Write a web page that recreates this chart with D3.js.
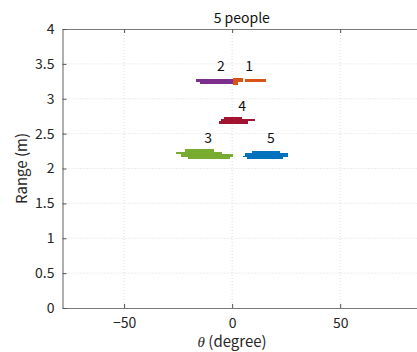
<!DOCTYPE html>
<html>
<head>
<meta charset="utf-8">
<script src="https://cdn.jsdelivr.net/npm/d3@7"></script>
<style>
  html, body { margin: 0; padding: 0; background: #fff; }
  svg { display: block; }
  text { font-family: "Noto Sans CJK JP", "Noto Sans", sans-serif; }
</style>
</head>
<body>
<svg id="chart" width="417" height="352"></svg>
<script>
// Detected people: each row is [thetaStart, thetaEnd, rangeTop, rangeBottom]
const person1 = [
  [0.2, 4.8, 3.300, 3.245],
  [0.2, 2.8, 3.245, 3.197],
  [6.0, 15.6, 3.283, 3.245]
];
const person2 = [
  [-16.5, 0.2, 3.280, 3.247],
  [-15.0, 0.2, 3.247, 3.205]
];
const person3 = [
  [-21.6, -8.4, 2.276, 2.237],
  [-26.1, -4.9, 2.237, 2.204],
  [-23.7, 0.2, 2.204, 2.170],
  [-20.3, -1.1, 2.170, 2.133]
];
const person4 = [
  [-3.8, 4.5, 2.745, 2.713],
  [-5.2, 10.5, 2.713, 2.674],
  [-6.2, 7.3, 2.674, 2.634]
];
const person5 = [
  [9.3, 22.0, 2.255, 2.227],
  [5.9, 25.7, 2.227, 2.185],
  [4.8, 25.7, 2.185, 2.169],
  [6.7, 23.5, 2.169, 2.132]
];

const people = [person1, person2, person3, person4, person5];
const peopleIds = ["1", "2", "3", "4", "5"];
const peopleColors = ["#D95319", "#7E2F8E", "#77AC30", "#A2142F", "#0072BD"];
// Label anchor for each person: [theta, range]
const labelPos = [[7.9, 3.48], [-5.2, 3.48], [-11.1, 2.45], [4.6, 2.91], [17.9, 2.45]];

const xTicks = [-50, 0, 50];
const yTicks = [0, 0.5, 1, 1.5, 2, 2.5, 3, 3.5, 4];
const titleText = "5 people";

const svg = d3.select("#chart");
const plotL = 62.5, plotT = 29, plotB = 308, plotR = 421;

const x = d3.scaleLinear().domain([-78.5, 87.4]).range([plotL, plotR]);
const y = d3.scaleLinear().domain([0, 4]).range([plotB, plotT]);

const axisColor = "#7a7a7a";
const textColor = "#262626";

// grid
const grid = svg.append("g");
grid.selectAll(".gx").data(xTicks).join("line")
  .attr("x1", d => x(d)).attr("x2", d => x(d))
  .attr("y1", plotT).attr("y2", plotB)
  .attr("stroke", "#dcdcdc").attr("stroke-width", 1)
  .attr("stroke-dasharray", "1,2");
grid.selectAll(".gy").data(yTicks.filter(d => d > 0 && d < 4)).join("line")
  .attr("x1", plotL).attr("x2", plotR)
  .attr("y1", d => y(d)).attr("y2", d => y(d))
  .attr("stroke", "#dcdcdc").attr("stroke-width", 1)
  .attr("stroke-dasharray", "1,2");

// person marks: rows snapped to whole pixels so neighbouring rows join without seams
people.forEach((rows, i) => {
  svg.append("g").attr("shape-rendering", "crispEdges")
    .selectAll("rect").data(rows).join("rect")
    .attr("x", d => Math.round(x(d[0])))
    .attr("width", d => Math.round(x(d[1])) - Math.round(x(d[0])))
    .attr("y", d => Math.round(y(d[2])))
    .attr("height", d => Math.round(y(d[3])) - Math.round(y(d[2])))
    .attr("fill", peopleColors[i]);
});

// person labels
svg.append("g").selectAll("text").data(labelPos).join("text")
  .attr("x", d => x(d[0]))
  .attr("y", d => y(d[1]))
  .attr("text-anchor", "middle")
  .attr("dominant-baseline", "central")
  .attr("font-size", 14)
  .attr("fill", "#111")
  .text((d, i) => peopleIds[i]);

// axes
const xAxisB = d3.axisBottom(x).tickValues(xTicks).tickSizeInner(-4).tickSizeOuter(0)
  .tickFormat(d => d < 0 ? "\u2212" + Math.abs(d) : d).tickPadding(10);
const gxb = svg.append("g").attr("transform", `translate(0,${plotB})`).call(xAxisB);
const xAxisT = d3.axisTop(x).tickValues(xTicks).tickSizeInner(-4).tickSizeOuter(0).tickFormat("");
const gxt = svg.append("g").attr("transform", `translate(0,${plotT})`).call(xAxisT);
const yAxisL = d3.axisLeft(y).tickValues(yTicks).tickSizeInner(-4).tickSizeOuter(0)
  .tickFormat(d => d).tickPadding(8);
const gyl = svg.append("g").attr("transform", `translate(${plotL},0)`).call(yAxisL);

[gxb, gxt, gyl].forEach(g => {
  g.select(".domain").attr("stroke", axisColor).attr("stroke-width", 1.2);
  g.selectAll(".tick line").attr("stroke", "#555");
  g.selectAll(".tick text").attr("fill", textColor).attr("font-size", 14)
    .attr("font-family", "'Noto Sans CJK JP', sans-serif");
});

// title
svg.append("text")
  .attr("x", (plotL + plotR) / 2).attr("y", 23)
  .attr("text-anchor", "middle")
  .attr("font-size", 14).attr("fill", "#111")
  .text(titleText);

// x label
const xl = svg.append("text")
  .attr("x", x(0)).attr("y", 347)
  .attr("text-anchor", "middle")
  .attr("font-size", 15).attr("fill", textColor);
xl.append("tspan").attr("font-style", "italic").attr("font-family", "'Liberation Serif', serif").text("\u03b8");
xl.append("tspan").text(" (degree)");

// y label
svg.append("text")
  .attr("transform", `translate(27,${(plotT + plotB) / 2}) rotate(-90)`)
  .attr("text-anchor", "middle")
  .attr("font-size", 15).attr("fill", textColor)
  .text("Range (m)");
</script>
</body>
</html>
